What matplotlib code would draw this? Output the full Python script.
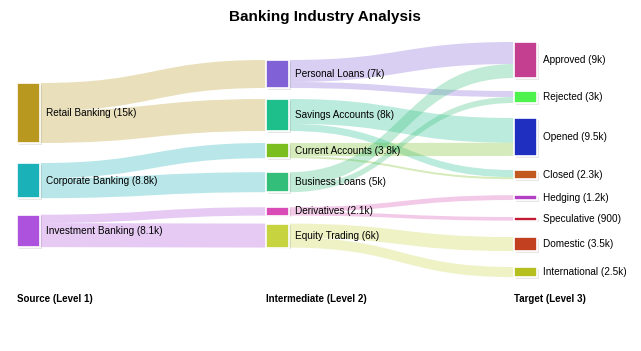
import matplotlib
matplotlib.use("Agg")
import matplotlib.pyplot as plt
from matplotlib.path import Path
from matplotlib.patches import PathPatch, Rectangle
from matplotlib.colors import to_rgba

plt.rcParams['font.family'] = ['Liberation Sans', 'DejaVu Sans']

# ---------------------------------------------------------------------
# Data
# ---------------------------------------------------------------------
level1 = ['Retail Banking', 'Corporate Banking', 'Investment Banking']
level2 = ['Personal Loans', 'Savings Accounts', 'Current Accounts',
          'Business Loans', 'Derivatives', 'Equity Trading']
level3 = ['Approved', 'Rejected', 'Opened', 'Closed', 'Hedging',
          'Speculative', 'Domestic', 'International']

link_src = ['Retail Banking', 'Retail Banking',
            'Corporate Banking', 'Corporate Banking',
            'Investment Banking', 'Investment Banking',
            'Personal Loans', 'Personal Loans',
            'Savings Accounts', 'Savings Accounts',
            'Current Accounts', 'Current Accounts',
            'Business Loans', 'Business Loans',
            'Derivatives', 'Derivatives',
            'Equity Trading', 'Equity Trading']
link_dst = ['Personal Loans', 'Savings Accounts',
            'Current Accounts', 'Business Loans',
            'Derivatives', 'Equity Trading',
            'Approved', 'Rejected',
            'Opened', 'Closed',
            'Opened', 'Closed',
            'Approved', 'Rejected',
            'Hedging', 'Speculative',
            'Domestic', 'International']
link_val = [7000, 8000,
            3800, 5000,
            2100, 6000,
            5500, 1500,
            6200, 1800,
            3300, 500,
            3500, 1500,
            1200, 900,
            3500, 2500]

node_colors = {
    'Retail Banking': '#b8981e', 'Corporate Banking': '#1ab2b8',
    'Investment Banking': '#ad52dc',
    'Personal Loans': '#8062d6', 'Savings Accounts': '#1fbf8c',
    'Current Accounts': '#7abf1f', 'Business Loans': '#33bf7a',
    'Derivatives': '#d94cb5', 'Equity Trading': '#c8d43f',
    'Approved': '#c43f8f', 'Rejected': '#4df24d', 'Opened': '#1f2fbf',
    'Closed': '#c25a1f', 'Hedging': '#b33fc4', 'Speculative': '#c21a33',
    'Domestic': '#c23f1f', 'International': '#b5bf1f',
}

# ---------------------------------------------------------------------
# Layout (pixel space)
# ---------------------------------------------------------------------
W, H = 641, 351
SCALE = 4.0 / 1000          # px per unit
NODE_W = 23
# (nodes, x, top of first node, gaps between successive nodes)
columns = [
    (level1, 17, 83, [20, 16.5]),
    (level2, 266, 60, [11, 12, 14, 15, 8]),
    (level3, 514, 42, [13, 15, 14, 16, 17, 16.5, 16]),
]

node_in = {}
node_out = {}
for s, d, v in zip(link_src, link_dst, link_val):
    node_out[s] = node_out.get(s, 0) + v
    node_in[d] = node_in.get(d, 0) + v

node_val = {}
node_pos = {}   # name -> (x, ytop, height)
for names, x, ytop, gaps in columns:
    y = ytop
    for k, n in enumerate(names):
        v = max(node_in.get(n, 0), node_out.get(n, 0))
        node_val[n] = v
        h = v * SCALE
        node_pos[n] = (x, y, h)
        if k < len(gaps):
            y += h + gaps[k]


def fmt(v):
    if v >= 1000:
        return f"{v / 1000:g}k"
    return str(v)


fig = plt.figure(figsize=(W / 100, H / 100), dpi=100)
ax = fig.add_axes([0, 0, 1, 1])
ax.set_xlim(0, W)
ax.set_ylim(H, 0)
ax.axis('off')

# ---------------------------------------------------------------------
# Links
# ---------------------------------------------------------------------
links = list(zip(link_src, link_dst, link_val))
out_off = {n: 0.0 for n in node_pos}
in_off = {n: 0.0 for n in node_pos}
out_y = {}
in_y = {}
for i in sorted(range(len(links)), key=lambda k: (link_src[k], node_pos[link_dst[k]][1])):
    s, d, v = links[i]
    out_y[i] = node_pos[s][1] + out_off[s]
    out_off[s] += v * SCALE
for i in sorted(range(len(links)), key=lambda k: (link_dst[k], node_pos[link_src[k]][1])):
    s, d, v = links[i]
    in_y[i] = node_pos[d][1] + in_off[d]
    in_off[d] += v * SCALE

for i, (s, d, v) in enumerate(links):
    h = v * SCALE
    x0 = node_pos[s][0] + NODE_W
    x1 = node_pos[d][0]
    xm = (x0 + x1) / 2
    y0, y1 = out_y[i], in_y[i]
    verts = [(x0, y0), (xm, y0), (xm, y1), (x1, y1),
             (x1, y1 + h), (xm, y1 + h), (xm, y0 + h), (x0, y0 + h),
             (x0, y0)]
    codes = [Path.MOVETO, Path.CURVE4, Path.CURVE4, Path.CURVE4,
             Path.LINETO, Path.CURVE4, Path.CURVE4, Path.CURVE4,
             Path.CLOSEPOLY]
    ax.add_patch(PathPatch(Path(verts, codes),
                           facecolor=to_rgba(node_colors[s], 0.3),
                           edgecolor='none', zorder=1))

# ---------------------------------------------------------------------
# Nodes + labels
# ---------------------------------------------------------------------
for n, (x, y, h) in node_pos.items():
    ax.add_patch(Rectangle((x + 1.5, y + 1.5), NODE_W, h,
                           facecolor='#00000018', edgecolor='none', zorder=2))
    ax.add_patch(Rectangle((x, y), NODE_W, h, facecolor=node_colors[n],
                           edgecolor='white', linewidth=1.2, zorder=3))
    ax.text(x + NODE_W + 6, y + h / 2, f"{n} ({fmt(node_val[n])})",
            fontsize=7.2, ha='left', va='center', color='black', zorder=4)

ax.text(325, 17, 'Banking Industry Analysis', fontsize=11,
        fontweight='bold', ha='center', va='center')

level_titles = ['Source (Level 1)', 'Intermediate (Level 2)', 'Target (Level 3)']
for (names, x, _, _), t in zip(columns, level_titles):
    ax.text(x, 299, t, fontsize=7, fontweight='bold', ha='left', va='center')

fig.savefig('out.png', dpi=100)
